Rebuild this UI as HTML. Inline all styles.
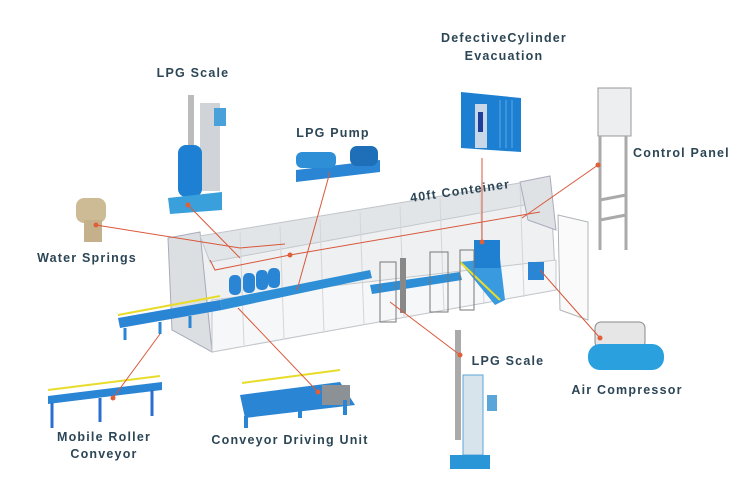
<!DOCTYPE html>
<html><head><meta charset="utf-8"><style>
html,body{margin:0;padding:0;background:#fff;width:733px;height:488px;overflow:hidden}
svg{display:block}
text{font-family:"Liberation Sans",sans-serif;font-size:12.5px;fill:#2c4656;letter-spacing:1.2px;font-weight:bold}
</style></head><body>
<svg width="733" height="488" viewBox="0 0 733 488" xmlns="http://www.w3.org/2000/svg">
<!-- container -->
<polygon points="200,236 550,178 556,290 212,352" fill="#eef0f2" stroke="#b9bec3"/>
<polygon points="168,238 200,232 212,352 172,330" fill="#dcdfe2" stroke="#aab"/>
<polygon points="200,236 550,178 552,200 210,262" fill="#e2e5e8" stroke="#c4c8cc"/>
<polygon points="212,300 556,260 556,290 212,352" fill="#f6f7f8" stroke="#c4c8cc"/>
<polygon points="520,182 550,176 556,230 528,220" fill="#dfe2e5" stroke="#aab"/>
<polygon points="558,215 588,222 588,320 560,310" fill="#fafafa" stroke="#b0b4b8"/>
<g stroke="#d3d6d9" stroke-width="1">
<line x1="240" y1="232" x2="244" y2="345"/><line x1="280" y1="226" x2="284" y2="338"/>
<line x1="320" y1="219" x2="324" y2="332"/><line x1="360" y1="212" x2="364" y2="325"/>
<line x1="400" y1="206" x2="404" y2="318"/><line x1="440" y1="199" x2="444" y2="311"/>
<line x1="480" y1="192" x2="484" y2="304"/><line x1="520" y1="185" x2="524" y2="297"/>
</g>
<!-- inner conveyor -->
<polygon points="220,300 370,270 372,278 222,310" fill="#2e8fd6"/>
<polygon points="370,285 460,272 462,280 372,294" fill="#2e8fd6"/>
<polygon points="460,262 500,258 505,300 495,305" fill="#3a9ae0"/>
<line x1="460" y1="262" x2="500" y2="300" stroke="#e8dc2a" stroke-width="2"/>
<g fill="#2a86d4">
<rect x="229" y="275" width="12" height="20" rx="5"/><rect x="243" y="273" width="12" height="20" rx="5"/>
<rect x="256" y="270" width="12" height="20" rx="5"/><rect x="268" y="268" width="12" height="20" rx="5"/>
</g>
<rect x="474" y="240" width="26" height="28" fill="#1f7fd0"/>
<rect x="528" y="262" width="16" height="18" fill="#2a86d4"/>
<rect x="400" y="258" width="6" height="55" fill="#888"/>
<g stroke="#777" fill="none"><rect x="380" y="262" width="16" height="60"/><rect x="430" y="252" width="18" height="60"/><rect x="460" y="250" width="14" height="60"/></g>
<!-- left conveyor -->
<polygon points="118,318 220,300 222,310 120,328" fill="#2a86d4"/>
<line x1="118" y1="315" x2="220" y2="296" stroke="#e8dc2a" stroke-width="2"/>
<g stroke="#2a86d4" stroke-width="3"><line x1="125" y1="328" x2="125" y2="340"/><line x1="160" y1="322" x2="160" y2="334"/><line x1="190" y1="316" x2="190" y2="328"/></g>
<!-- top LPG scale -->
<rect x="188" y="95" width="6" height="70" fill="#bbb"/>
<rect x="200" y="103" width="20" height="88" fill="#d0d4d8"/>
<rect x="214" y="108" width="12" height="18" fill="#4aa0d8"/>
<rect x="178" y="145" width="24" height="52" rx="8" fill="#1e80d2"/>
<polygon points="168,198 222,192 222,210 170,214" fill="#3aa0dc"/>
<!-- defective cylinder cabinet -->
<polygon points="461,92 521,98 521,152 461,148" fill="#1c7fd2"/>
<rect x="475" y="104" width="12" height="44" fill="#c8d8e8"/>
<rect x="478" y="112" width="5" height="20" fill="#1d3f9a"/>
<g stroke="#5aaae6"><line x1="500" y1="100" x2="500" y2="148"/><line x1="506" y1="100" x2="506" y2="148"/><line x1="512" y1="100" x2="512" y2="148"/></g>
<!-- LPG pump -->
<polygon points="296,170 380,160 380,172 296,182" fill="#2a86d4"/>
<rect x="296" y="152" width="40" height="16" rx="6" fill="#2e8fd6"/>
<rect x="350" y="146" width="28" height="20" rx="7" fill="#1f6fb8"/>
<!-- control panel -->
<rect x="598" y="88" width="33" height="48" fill="#eceef0" stroke="#999"/>
<g stroke="#aaa" stroke-width="3"><line x1="600" y1="136" x2="600" y2="250"/><line x1="626" y1="136" x2="626" y2="250"/><line x1="600" y1="220" x2="626" y2="215"/><line x1="600" y1="200" x2="626" y2="195"/></g>
<!-- water springs -->
<rect x="76" y="198" width="30" height="25" rx="8" fill="#cdbb95"/>
<rect x="84" y="220" width="18" height="22" fill="#c4b08a"/>
<!-- air compressor -->
<rect x="595" y="322" width="50" height="26" rx="6" fill="#e6e6e6" stroke="#888"/>
<rect x="588" y="344" width="76" height="26" rx="12" fill="#2aa0de"/>
<!-- lower LPG scale -->
<rect x="455" y="330" width="6" height="110" fill="#aaa"/>
<rect x="463" y="375" width="20" height="80" fill="#d8e4ec" stroke="#5aa6d8"/>
<rect x="487" y="395" width="10" height="16" fill="#5aa6d8"/>
<rect x="450" y="455" width="40" height="14" fill="#2a96d8"/>
<!-- mobile roller conveyor -->
<polygon points="48,396 162,382 162,390 48,404" fill="#2a86d4"/>
<line x1="48" y1="390" x2="160" y2="376" stroke="#e8dc2a" stroke-width="2"/>
<g stroke="#2a6ed0" stroke-width="3"><line x1="52" y1="403" x2="52" y2="428"/><line x1="100" y1="398" x2="100" y2="422"/><line x1="152" y1="390" x2="152" y2="416"/></g>
<!-- conveyor driving unit -->
<polygon points="240,395 340,382 355,405 245,418" fill="#2a86d4"/>
<line x1="242" y1="383" x2="340" y2="370" stroke="#e8dc2a" stroke-width="2"/>
<rect x="322" y="385" width="28" height="20" fill="#8c9196"/>
<g stroke="#2a86d4" stroke-width="4"><line x1="246" y1="416" x2="246" y2="428"/><line x1="300" y1="405" x2="300" y2="418"/><line x1="345" y1="400" x2="345" y2="415"/></g>
<!-- red leader lines -->
<g stroke="#d9573a" stroke-width="1" fill="none">
<polyline points="96,225 240,248 285,244"/>
<line x1="188" y1="205" x2="240" y2="258"/>
<line x1="330" y1="172" x2="297" y2="290"/>
<line x1="482" y1="158" x2="482" y2="242"/>
<line x1="598" y1="165" x2="522" y2="218"/>
<polyline points="210,260 215,270 290,255 540,212"/>
<line x1="540" y1="270" x2="600" y2="338"/>
<line x1="390" y1="302" x2="460" y2="355"/>
<line x1="238" y1="308" x2="318" y2="392"/>
<line x1="160" y1="334" x2="113" y2="398"/>
</g>
<g fill="#e0603a"><circle cx="96" cy="225" r="2.5"/><circle cx="188" cy="205" r="2.5"/><circle cx="482" cy="242" r="2.5"/><circle cx="598" cy="165" r="2.5"/><circle cx="290" cy="255" r="2.5"/><circle cx="460" cy="355" r="2.5"/><circle cx="318" cy="392" r="2.5"/><circle cx="113" cy="398" r="2.5"/><circle cx="600" cy="338" r="2.5"/></g>
<!-- labels -->
<text x="193" y="77" text-anchor="middle">LPG Scale</text>
<text x="504" y="42" text-anchor="middle">DefectiveCylinder</text>
<text x="504" y="60" text-anchor="middle">Evacuation</text>
<text x="333" y="137" text-anchor="middle">LPG Pump</text>
<text x="633" y="157">Control Panel</text>
<text x="460" y="195" text-anchor="middle" transform="rotate(-8 460 190)">40ft Conteiner</text>
<text x="87" y="262" text-anchor="middle">Water Springs</text>
<text x="508" y="365" text-anchor="middle">LPG Scale</text>
<text x="627" y="394" text-anchor="middle">Air Compressor</text>
<text x="104" y="441" text-anchor="middle">Mobile Roller</text>
<text x="104" y="458" text-anchor="middle">Conveyor</text>
<text x="290" y="444" text-anchor="middle">Conveyor Driving Unit</text>
</svg>
</body></html>
